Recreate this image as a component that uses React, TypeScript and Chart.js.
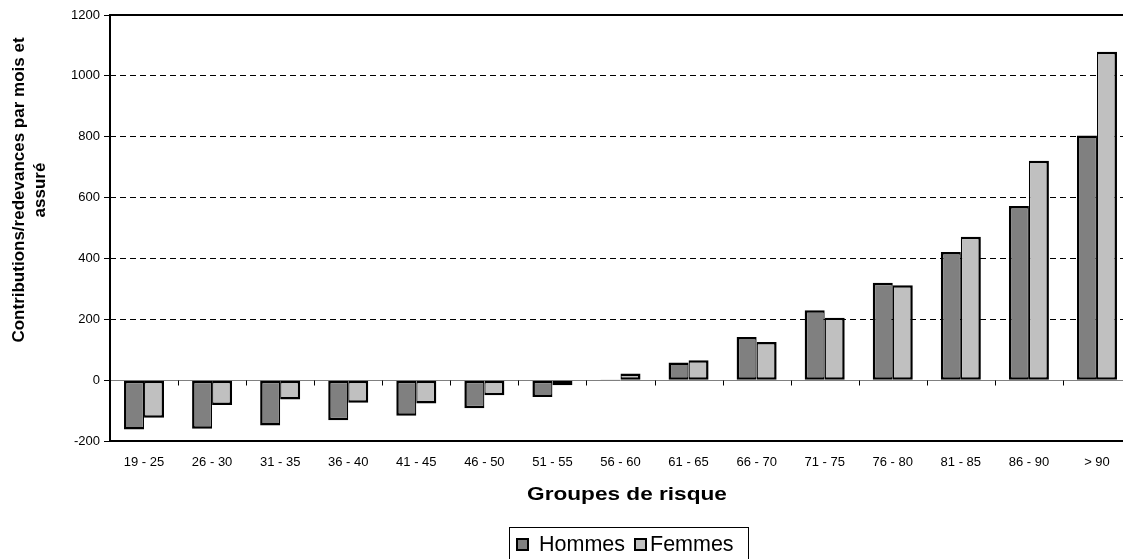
import React, { useEffect, useRef } from "react";
import { Chart, registerables } from "chart.js";

Chart.register(...registerables);

const categories = [
  "19 - 25", "26 - 30", "31 - 35", "36 - 40", "41 - 45", "46 - 50", "51 - 55",
  "56 - 60", "61 - 65", "66 - 70", "71 - 75", "76 - 80", "81 - 85", "86 - 90", "> 90",
];
const hommes = [-162, -160, -149, -132, -117, -92, -55, 2, 58, 142, 230, 320, 421, 572, 804];
const femmes = [-124, -82, -64, -74, -77, -50, -17, 22, 65, 125, 205, 312, 471, 721, 1079];
const yTitleLines = ["Contributions/redevances par mois et", "assuré"];
const xTitle = "Groupes de risque";
const seriesNames = ["Hommes", "Femmes"];
const seriesColors = ["#808080", "#C0C0C0"];

const FONT = '"Liberation Sans", Arial, sans-serif';

const decorPlugin = {
  id: "excelDecor",
  beforeDatasetsDraw(chart: any) {
    const { ctx, chartArea: a, scales } = chart;
    const x = scales.x;
    const y = scales.y;
    const y0 = Math.round(y.getPixelForValue(0)) + 0.5;
    ctx.save();
    ctx.strokeStyle = "#808080";
    ctx.lineWidth = 1;
    ctx.beginPath();
    ctx.moveTo(a.left, y0);
    ctx.lineTo(a.right, y0);
    ctx.stroke();
    ctx.strokeStyle = "#000";
    const n = chart.data.labels.length;
    for (let i = 1; i < n; i++) {
      const xb = Math.round((x.getPixelForTick(i - 1) + x.getPixelForTick(i)) / 2) + 0.5;
      ctx.beginPath();
      ctx.moveTo(xb, y0);
      ctx.lineTo(xb, y0 + 5);
      ctx.stroke();
    }
    ctx.restore();
  },
  afterDraw(chart: any) {
    const { ctx, chartArea: a } = chart;
    ctx.save();
    // frame
    ctx.strokeStyle = "#000";
    ctx.lineWidth = 2;
    ctx.strokeRect(a.left, a.top, a.right - a.left, a.bottom - a.top);

    // y title
    ctx.fillStyle = "#000";
    ctx.font = `bold 17px ${FONT}`;
    ctx.textAlign = "center";
    ctx.textBaseline = "alphabetic";
    ctx.save();
    ctx.translate(0, 190);
    ctx.rotate(-Math.PI / 2);
    ctx.fillText(yTitleLines[0], 0, 24);
    ctx.fillText(yTitleLines[1], 0, 45);
    ctx.restore();

    // x title
    ctx.save();
    ctx.translate(627, 500);
    ctx.scale(1.19, 1);
    ctx.font = `bold 19px ${FONT}`;
    ctx.textAlign = "center";
    ctx.fillText(xTitle, 0, 0);
    ctx.restore();

    // legend
    ctx.lineWidth = 1;
    ctx.strokeStyle = "#000";
    ctx.strokeRect(509.5, 527.5, 239, 40);
    const ds = chart.data.datasets;
    const keyX = [516, 634];
    const textX = [539, 650];
    ctx.font = `21.5px ${FONT}`;
    ctx.textAlign = "left";
    for (let i = 0; i < ds.length; i++) {
      ctx.fillStyle = ds[i].backgroundColor;
      ctx.fillRect(keyX[i], 538, 13, 13);
      ctx.lineWidth = 2;
      ctx.strokeRect(keyX[i] + 1, 539, 11, 11);
      ctx.fillStyle = "#000";
      ctx.fillText(ds[i].label, textX[i], 551);
    }
    ctx.restore();
  },
};

export default function App() {
  const ref = useRef<HTMLCanvasElement | null>(null);
  useEffect(() => {
    if (!ref.current) return;
    const chart = new Chart(ref.current, {
      type: "bar",
      data: {
        labels: categories,
        datasets: [
          {
            label: seriesNames[0],
            data: hommes,
            backgroundColor: seriesColors[0],
            borderColor: "#000",
            borderWidth: { top: 2.5, bottom: 2.5, left: 2.5, right: 1.25 },
            borderSkipped: false,
            barPercentage: 1,
            categoryPercentage: 0.588,
          },
          {
            label: seriesNames[1],
            data: femmes,
            backgroundColor: seriesColors[1],
            borderColor: "#000",
            borderWidth: { top: 2.5, bottom: 2.5, left: 1.25, right: 2.5 },
            borderSkipped: false,
            barPercentage: 1,
            categoryPercentage: 0.588,
          },
        ],
      },
      options: {
        animation: false,
        responsive: true,
        maintainAspectRatio: false,
        devicePixelRatio: 1,
        layout: { padding: { left: 50, right: 9, top: 15, bottom: 0 } },
        plugins: { legend: { display: false }, tooltip: { enabled: false } },
        scales: {
          x: {
            type: "category",
            offset: true,
            grid: { display: false, drawTicks: false },
            border: { display: false },
            ticks: {
              color: "#000",
              font: { family: FONT, size: 13 },
              padding: 14,
              maxRotation: 0,
              autoSkip: false,
            },
            afterFit: (s: any) => {
              s.height = 118;
              s.paddingLeft = 0;
              s.paddingRight = 0;
            },
          },
          y: {
            min: -200,
            max: 1200,
            ticks: {
              stepSize: 200,
              color: "#000",
              font: { family: FONT, size: 13 },
              padding: 4,
              callback: (v: any) => String(v),
            },
            grid: {
              color: (c: any) => {
                const v = c.tick ? c.tick.value : null;
                return v !== null && v > 0 && v < 1200 ? "#000" : "rgba(0,0,0,0)";
              },
              tickColor: "#000",
              tickLength: 6,
              lineWidth: 1,
            },
            border: { display: false, dash: [6, 4] },
            afterFit: (s: any) => {
              s.width = 60;
              s.paddingTop = 0;
              s.paddingBottom = 0;
            },
          },
        },
      },
      plugins: [decorPlugin],
    });
    return () => chart.destroy();
  }, []);

  return (
    <div
      style={{
        position: "fixed",
        left: 0,
        top: 0,
        width: 1123,
        height: 559,
        overflow: "hidden",
        background: "#fff",
      }}
    >
      <div style={{ position: "relative", width: 1140, height: 559 }}>
        <canvas ref={ref} />
      </div>
    </div>
  );
}
